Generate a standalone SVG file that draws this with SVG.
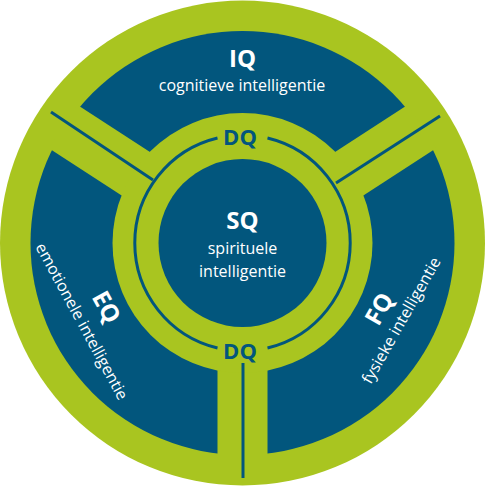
<svg xmlns="http://www.w3.org/2000/svg" width="485" height="486" viewBox="0 0 485 486">
  <style>
    .green { fill: #a9c520; }
    .blue { fill: #02567d; }
    .line { stroke: #02567d; stroke-width: 3; fill: none; }
    .title { font-family: "Open Sans", "DejaVu Sans", sans-serif; font-weight: bold; font-size: 24px; fill: #ffffff; text-anchor: middle; }
    .sub { font-family: "Open Sans", "DejaVu Sans", sans-serif; font-size: 16px; fill: #ffffff; text-anchor: middle; }
    .dq { font-family: "Open Sans", "DejaVu Sans", sans-serif; font-weight: bold; font-size: 22px; fill: #02567d; text-anchor: middle; }
  </style>
  <g id="background">
    <circle class="green" cx="242.5" cy="243" r="242.5"/>
    <circle class="blue" cx="242.5" cy="243" r="212"/>
    <g transform="translate(242.5,243)">
      <rect class="green" x="0" y="-26" width="214" height="52" transform="rotate(-33)"/>
      <rect class="green" x="0" y="-26" width="214" height="52" transform="rotate(-147)"/>
      <rect class="green" x="0" y="-25" width="214" height="50" transform="rotate(90)"/>
    </g>
    <circle class="green" cx="242.5" cy="243" r="130"/>
  </g>
  <g id="connectors">
    <path class="line" d="M 217.5 138 A 108 108 0 0 0 217.5 348"/>
    <path class="line" d="M 267.5 138 A 108 108 0 0 1 267.5 348"/>
    <line class="line" x1="51" y1="112" x2="153" y2="180"/>
    <line class="line" x1="336" y1="183" x2="440" y2="116"/>
    <line class="line" x1="243" y1="363" x2="243" y2="478"/>
  </g>
  <g id="SQ">
    <circle class="blue" cx="242.5" cy="243" r="84"/>
    <text class="title" x="242.5" y="229">SQ</text>
    <text class="sub" x="242.5" y="254">spirituele</text>
    <text class="sub" x="242.5" y="277">intelligentie</text>
  </g>
  <g id="IQ">
    <text class="title" x="242.5" y="67">IQ</text>
    <text class="sub" x="242" y="91">cognitieve intelligentie</text>
  </g>
  <g id="EQ">
    <text class="title" transform="translate(99,311) rotate(61.5)">EQ</text>
    <text class="sub" transform="translate(77,324) rotate(61.5)">emotionele intelligentie</text>
  </g>
  <g id="FQ">
    <text class="title" transform="translate(386.5,313) rotate(-60.4)">FQ</text>
    <text class="sub" transform="translate(406,323) rotate(-60.4)">fysieke intelligentie</text>
  </g>
  <g id="DQ-top">
    <text class="dq" x="240" y="145">DQ</text>
  </g>
  <g id="DQ-bottom">
    <text class="dq" x="240" y="359">DQ</text>
  </g>
</svg>
